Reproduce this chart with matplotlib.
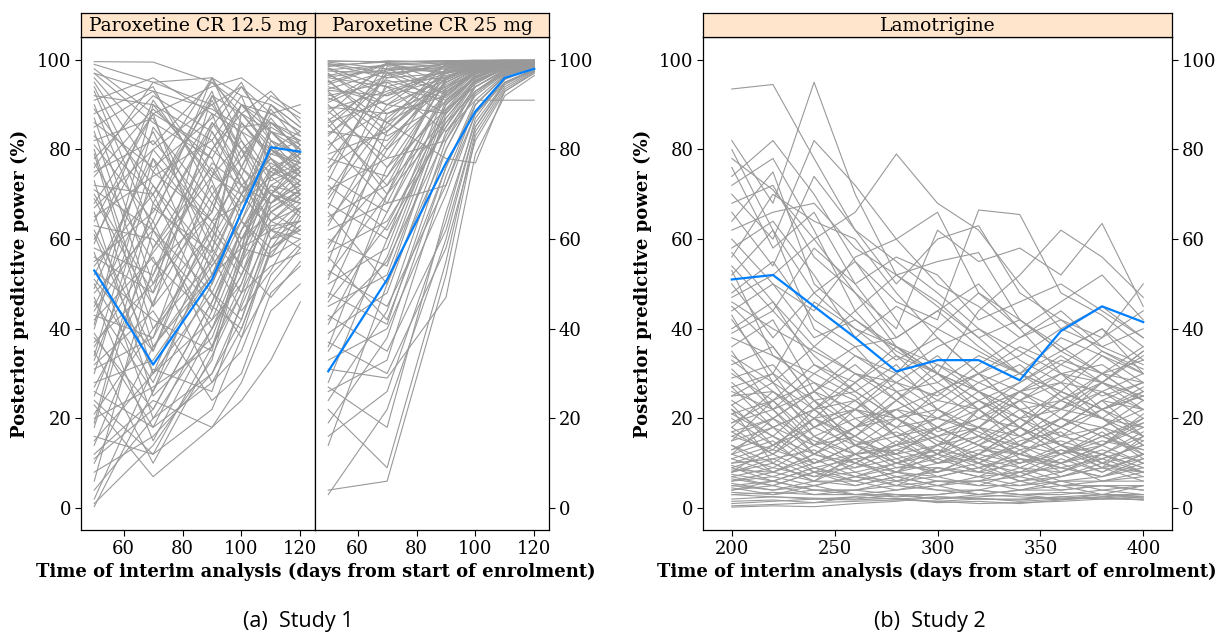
import matplotlib
matplotlib.use("Agg")
import matplotlib.pyplot as plt

# interim analysis times (days)
days_s1 = [50, 70, 90, 100, 110, 120]
days_s2 = [200, 220, 240, 260, 280, 300, 320, 340, 360, 380, 400]

# posterior predictive power (%) for each simulated trial
pp_12mg = [
    [99.6, 99.5, 95, 88, 84, 80], [99, 95, 96, 92, 90, 85], [97, 93, 89, 85, 86, 83],
    [96, 81, 95, 90, 84, 78], [94, 68, 92, 80, 75, 72], [92, 90, 74, 70, 85, 81],
    [90, 58, 80, 88, 93, 86], [88, 94, 70, 60, 72, 76], [86, 76, 87, 95, 82, 79],
    [84, 45, 62, 76, 88, 90], [82, 87, 60, 52, 66, 70], [81, 64, 96, 82, 70, 66],
    [80, 40, 55, 70, 78, 74], [78, 92, 84, 74, 60, 64], [77, 55, 42, 50, 68, 73],
    [75, 82, 66, 86, 79, 77], [73, 30, 48, 62, 71, 68], [72, 70, 91, 78, 89, 81],
    [70, 48, 72, 58, 62, 60], [68, 88, 52, 66, 80, 84], [66, 25, 38, 55, 64, 70],
    [65, 74, 82, 92, 76, 71], [63, 60, 45, 40, 58, 62], [62, 35, 68, 80, 86, 80],
    [60, 84, 58, 48, 54, 57], [58, 52, 77, 72, 68, 75], [57, 20, 30, 45, 60, 67],
    [55, 66, 88, 84, 74, 69], [53, 42, 35, 58, 82, 78], [52, 78, 62, 54, 47, 55],
    [50, 28, 56, 70, 77, 73], [48, 62, 86, 76, 90, 83], [47, 15, 40, 52, 66, 71],
    [45, 72, 50, 64, 58, 63], [43, 38, 74, 82, 73, 76], [42, 56, 28, 35, 52, 59],
    [40, 85, 68, 60, 70, 65], [38, 22, 46, 62, 75, 80], [37, 50, 80, 74, 64, 61],
    [35, 10, 34, 48, 62, 68], [33, 67, 57, 88, 81, 74], [32, 44, 24, 30, 48, 54],
    [30, 75, 64, 68, 79, 82], [28, 33, 52, 58, 56, 66], [26, 18, 44, 60, 72, 70],
    [25, 58, 76, 66, 84, 77], [23, 7, 18, 24, 33, 46], [21, 40, 60, 72, 68, 72],
    [20, 27, 36, 55, 70, 76], [18, 62, 48, 42, 63, 64], [16, 12, 22, 38, 58, 67],
    [14, 46, 70, 78, 87, 79], [12, 24, 18, 28, 44, 50], [10, 36, 54, 64, 76, 73],
    [8, 16, 30, 42, 60, 62], [6, 54, 66, 84, 80, 75], [4, 20, 40, 52, 70, 78],
    [2, 31, 26, 46, 64, 69], [1, 14, 33, 56, 74, 81], [0.3, 26, 58, 70, 62, 58],
    [97, 86, 78, 64, 56, 60], [89, 72, 56, 44, 53, 65], [76, 95, 90, 80, 70, 68],
    [64, 88, 94, 96, 91, 87],
    [98, 88, 80, 90, 82, 75], [95, 75, 96, 86, 78, 70], [93, 62, 85, 94, 88, 84],
    [91, 96, 88, 72, 64, 67], [87, 50, 66, 84, 92, 88], [85, 93, 75, 68, 74, 79],
    [83, 70, 93, 76, 68, 73], [79, 36, 52, 68, 84, 82], [74, 89, 78, 90, 86, 80],
    [71, 62, 40, 56, 74, 77], [69, 45, 86, 80, 66, 62], [67, 80, 64, 74, 90, 85],
    [61, 30, 60, 86, 78, 72], [59, 91, 73, 58, 67, 71], [56, 48, 92, 88, 80, 76],
    [54, 70, 44, 62, 72, 66], [51, 35, 64, 54, 86, 82], [49, 80, 90, 94, 84, 78],
    [46, 26, 50, 66, 80, 74], [44, 64, 36, 48, 70, 68], [41, 90, 82, 70, 62, 64],
    [39, 18, 28, 40, 57, 63], [36, 57, 74, 90, 88, 84], [34, 78, 48, 38, 50, 58],
    [31, 38, 62, 76, 70, 75], [27, 52, 84, 72, 78, 70], [24, 12, 36, 50, 68, 72],
    [19, 68, 54, 64, 80, 77], [15, 30, 42, 58, 76, 79], [11, 22, 46, 60, 66, 71],
]
pp_25mg = [
    [99.8, 99.5, 99.8, 99.9, 99.9, 99.9], [99.5, 98, 99, 99.5, 99.7, 99.8],
    [99, 96, 97, 98.5, 99.5, 99.6], [98.5, 99.8, 99.5, 99.3, 99.6, 99.7],
    [98, 92, 96, 99, 99.2, 99.5], [97.5, 97, 98, 99.6, 99.8, 99.9],
    [97, 88, 94, 97, 98.8, 99.2], [96.5, 99, 99.6, 99.8, 99.9, 99.9],
    [96, 94, 91, 96, 98.5, 99], [95.5, 84, 97, 98, 99, 99.4],
    [95, 99.2, 98.5, 99.2, 99.5, 99.7], [94, 90, 88, 95, 98, 98.8],
    [93.5, 97.5, 99.2, 99.6, 99.8, 99.8], [93, 80, 92, 97.5, 98.6, 99.3],
    [92, 95, 96, 98.8, 99.3, 99.5], [91.5, 86, 99, 99.4, 99.7, 99.8],
    [91, 98, 93, 97, 98.2, 99], [90, 76, 89, 94, 97.5, 98.5],
    [89, 93, 97.5, 98.5, 99.4, 99.6], [88, 99.4, 95, 98, 99, 99.4],
    [87, 70, 86, 93, 97, 98.4], [86, 91, 98.8, 99.3, 99.6, 99.7],
    [85, 97, 90, 96.5, 98.4, 99.1], [84, 82, 94.5, 97.8, 99.1, 99.5],
    [83, 96, 99.4, 99.7, 99.9, 99.9], [82, 68, 72, 88, 95, 97.5],
    [81, 89, 96.5, 98.2, 99.2, 99.5], [80, 99.6, 92, 97, 98.9, 99.3],
    [78, 74, 95.5, 98.5, 99.5, 99.6], [77, 94, 84, 91, 91, 91],
    [76, 85, 98, 99.2, 99.6, 99.8], [74, 66, 90, 96, 98.6, 99.2],
    [73, 98.5, 97, 98.8, 99.4, 99.7], [71, 78, 82, 92, 97, 98.6],
    [70, 90, 99, 99.5, 99.8, 99.9], [68, 60, 93, 97.2, 99, 99.4],
    [67, 95, 88, 95.5, 98.2, 99], [65, 72, 96, 98.6, 99.5, 99.7],
    [63, 86, 78, 77, 93, 97], [62, 68, 94, 98, 99.3, 99.6],
    [60, 54, 89, 96.8, 98.8, 99.3], [58, 80, 97.8, 99, 99.6, 99.8],
    [57, 64, 85, 94, 97.8, 98.9], [55, 88, 92, 97.6, 99.1, 99.5],
    [53, 45, 72, 90, 96.5, 98.2], [52, 70, 98.5, 99.4, 99.7, 99.8],
    [50, 58, 91, 96.2, 98.4, 99.1], [48, 41, 80, 92.5, 97.2, 98.7],
    [47, 76, 95, 98.4, 99.3, 99.6], [45, 52, 87, 95, 98, 99],
    [43, 35, 62, 85, 94.5, 97.8], [41, 66, 93.5, 97.5, 99, 99.4],
    [39, 48, 84, 93, 97.4, 98.8], [37, 30, 58, 82, 93, 97.2],
    [35, 56, 90, 96, 98.5, 99.2], [33, 40, 70, 88, 95.6, 98.3],
    [31, 29, 47, 79, 92, 96.5], [28, 60, 86, 95.4, 98.2, 99],
    [27, 18, 66, 86, 95, 98], [24, 44, 82, 94, 97.8, 98.9],
    [22, 9, 55, 84, 94, 97.6], [19, 38, 76, 90, 96.4, 98.5],
    [16, 26, 64, 87, 95.8, 98.2], [14, 50, 88, 95.8, 98.6, 99.2],
    [4, 6, 52, 83, 93.5, 97.4], [3, 22, 60, 85, 94.8, 97.9],
    [99.7, 99.6, 99.7, 99.8, 99.9, 99.9], [99.2, 97, 98.5, 99.4, 99.7, 99.8],
    [98.8, 99.5, 99.8, 99.9, 99.9, 99.9], [98.2, 94, 97.5, 99.2, 99.6, 99.7],
    [97.8, 98.8, 99.3, 99.6, 99.8, 99.8], [96.8, 90, 95.5, 98.6, 99.4, 99.6],
    [96.2, 97.8, 98.2, 99.2, 99.6, 99.7], [95.2, 86, 93.5, 97.6, 99, 99.4],
    [94.5, 99, 97.2, 99, 99.5, 99.7], [93.2, 92, 98.8, 99.5, 99.8, 99.8],
    [92.5, 83, 90.5, 96.4, 98.7, 99.3], [90.5, 96.5, 99.1, 99.6, 99.8, 99.9],
    [89.5, 88, 94, 98, 99.2, 99.5], [88.5, 78, 98, 99.3, 99.7, 99.8],
    [86.5, 95.5, 91.5, 97.4, 98.9, 99.4], [85.5, 72, 87, 95, 98.2, 99.1],
    [83.5, 92.5, 97, 99, 99.5, 99.7], [79, 84, 95, 98.2, 99.3, 99.6],
    [75, 97.2, 92.5, 97.8, 99.1, 99.5], [72, 62, 85, 95.2, 98.4, 99.2],
    [69, 87, 97.2, 99, 99.6, 99.8], [66, 50, 80, 93, 97.6, 98.9],
    [64, 81, 96.2, 98.8, 99.5, 99.7], [59, 74, 91, 97, 98.9, 99.4],
    [56, 42, 76, 91, 96.8, 98.6], [51, 84, 95.8, 98.7, 99.4, 99.6],
    [46, 63, 88.5, 96.4, 98.8, 99.3], [42, 55, 83, 94.6, 98.2, 99.1],
    [36, 70, 92.5, 97.9, 99.2, 99.6], [26, 33, 74, 90, 96.6, 98.6],
]
pp_lamo = [
    [93.5, 94.5, 78, 62, 55, 48, 40, 35, 30, 28, 25],
    [82, 68, 95, 70, 52, 45, 38, 42, 35, 30, 33],
    [78, 71, 60, 66, 79, 68, 62, 50, 40, 45, 38],
    [74, 82, 70, 55, 46, 42, 66.5, 65.5, 48, 43, 36],
    [70, 60, 82, 72, 60, 50, 45, 38, 44, 36, 40],
    [68, 72, 56, 48, 40, 62, 55, 58, 52, 63.5, 45],
    [66, 54, 74, 62, 50, 60, 63, 48, 42, 38, 50],
    [64, 75, 50, 42, 35, 30, 44, 52, 62, 56, 47],
    [62, 66, 68, 58, 52, 55, 57, 42, 35, 40, 30],
    [60, 50, 44, 56, 60, 66, 48, 40, 46, 52, 42],
    [58, 64, 52, 38, 45, 40, 35, 30, 38, 34, 28],
    [56, 70, 64, 60, 48, 38, 30, 36, 32, 28, 35],
    [54, 44, 58, 50, 56, 52, 42, 46, 50, 44, 38],
    [52, 62, 40, 34, 30, 36, 40, 33, 28, 26, 30],
    [50, 38, 48, 55, 42, 30, 26, 30, 35, 40, 33],
    [48, 55, 42, 36, 38, 44, 50, 40, 30, 25, 28],
    [46, 40, 35, 30, 28, 25, 32, 38, 42, 35, 31],
    [44, 50, 38, 42, 36, 32, 28, 24, 30, 32, 26],
    [42, 30, 46, 40, 33, 38, 30, 26, 22, 28, 35],
    [40, 46, 32, 28, 34, 30, 24, 28, 33, 30, 24],
    [38, 34, 30, 36, 26, 28, 34, 30, 26, 22, 27],
    [36, 42, 26, 22, 30, 24, 22, 26, 28, 35, 30],
    [34, 28, 36, 30, 24, 32, 26, 22, 18, 24, 22],
    [32, 36, 24, 26, 32, 22, 28, 32, 25, 20, 18],
    [30, 24, 28, 20, 22, 26, 20, 18, 24, 28, 34],
    [29, 32, 22, 24, 18, 20, 24, 20, 16, 22, 25],
    [28, 20, 26, 18, 24, 30, 22, 16, 20, 18, 22],
    [27, 30, 18, 22, 20, 16, 18, 24, 22, 26, 20],
    [26, 22, 30, 25, 16, 18, 14, 20, 26, 22, 18],
    [25, 26, 20, 16, 22, 20, 26, 18, 14, 18, 24],
    [24, 18, 22, 28, 20, 14, 16, 22, 18, 24, 16],
    [23, 28, 16, 20, 14, 22, 18, 14, 20, 16, 20],
    [22, 16, 24, 18, 26, 17, 20, 24, 16, 14, 19],
    [21, 24, 14, 22, 18, 12, 22, 16, 22, 20, 14],
    [20, 14, 20, 15, 12, 18, 14, 12, 18, 22, 26],
    [19, 22, 12, 18, 20, 15, 12, 18, 12, 16, 13],
    [18, 12, 18, 14, 16, 20, 17, 13, 15, 12, 17],
    [17, 20, 15, 12, 14, 11, 15, 20, 14, 18, 12],
    [16, 13, 22, 16, 10, 14, 10, 15, 17, 10, 15],
    [15, 18, 10, 14, 17, 12, 18, 11, 10, 14, 21],
    [14, 10, 16, 12, 13, 16, 11, 14, 12, 17, 11],
    [13, 16, 12, 10, 15, 10, 14, 9, 13, 11, 14],
    [12, 9, 14, 16, 11, 13, 9, 12, 10, 13, 10],
    [11, 14, 9, 11, 12, 8, 12, 10, 14, 9, 16],
    [10, 11, 13, 8, 10, 12, 8, 13, 8, 12, 9],
    [9.5, 7, 10, 12, 8, 10, 11, 7, 11, 8, 12],
    [9, 12, 8, 9, 11, 7, 9, 11, 7, 10, 7],
    [8.5, 8, 11, 7, 9, 9, 7, 8, 9, 7, 10],
    [8, 10, 6, 10, 7, 8, 10, 6, 8, 11, 8],
    [7.5, 6, 9, 6, 8, 6, 6, 9, 6, 7, 11],
    [7, 9, 7, 8, 5, 9, 8, 7, 10, 6, 6],
    [6.5, 5, 8, 5, 7, 5, 7, 5, 7, 9, 8],
    [6, 7, 5, 7, 6, 7, 5, 8, 5, 5, 5],
    [5.5, 4, 6, 6, 4, 6, 6, 4, 6, 6, 7],
    [5, 6, 4, 4, 5, 4, 4, 6, 4, 5, 4],
    [4.5, 3, 5, 3, 4, 5, 3, 4, 5, 3, 5],
    [4, 5, 3, 4, 3, 3, 4, 3, 3, 4, 3],
    [3.5, 3, 4, 3, 3, 2, 3, 2.5, 2, 3, 2.5],
    [3, 2.5, 2, 2.5, 2, 2.5, 2, 2, 2.5, 2, 2],
    [1.5, 1.8, 1.2, 2.5, 2, 1.5, 2, 1.8, 2.5, 3, 2.2],
    [1, 1.5, 2, 1.8, 2.2, 1.2, 1.5, 1, 1.8, 2.5, 1.8],
    [0.5, 0.8, 1.2, 1.5, 1.8, 1.5, 1, 1.2, 1.5, 2, 2.5],
    [0.2, 0.5, 0.3, 1, 1.5, 2.5, 2.2, 1.5, 2, 2.2, 1.8],
    [45, 36, 24, 14, 10, 8, 12, 18, 14, 10, 12],
    [35, 22, 14, 10, 8, 12, 16, 12, 10, 14, 20],
    [15, 24, 32, 26, 20, 14, 18, 26, 30, 22, 16],
    [12, 20, 26, 34, 28, 22, 16, 14, 20, 28, 24],
    [22, 10, 6, 12, 18, 26, 30, 22, 14, 10, 8],
    [8, 14, 20, 28, 36, 30, 24, 18, 26, 34, 30],
    [18, 26, 20, 12, 8, 14, 22, 28, 34, 28, 22],
    [80, 62, 48, 40, 36, 30, 26, 22, 24, 30, 28],
    [76, 58, 66, 50, 38, 44, 36, 30, 26, 22, 25],
    [72, 78, 62, 44, 34, 26, 30, 34, 40, 36, 32],
    [57, 46, 36, 44, 52, 46, 38, 30, 24, 20, 26],
    [53, 34, 28, 24, 30, 40, 48, 42, 36, 30, 24],
    [47, 52, 60, 48, 36, 28, 22, 26, 32, 38, 44],
    [43, 28, 22, 30, 26, 20, 18, 24, 28, 20, 16],
    [39, 44, 34, 26, 20, 24, 30, 22, 18, 24, 28],
    [33, 26, 18, 22, 28, 34, 26, 20, 22, 30, 36],
    [31, 22, 26, 32, 24, 18, 14, 18, 24, 20, 14],
    [27, 18, 14, 18, 22, 16, 20, 26, 20, 16, 12],
    [25, 30, 24, 14, 12, 18, 24, 18, 12, 14, 18],
    [23, 14, 18, 24, 16, 10, 12, 16, 20, 26, 22],
    [21, 16, 10, 14, 20, 22, 16, 12, 16, 18, 15],
    [19, 24, 16, 10, 14, 18, 22, 14, 10, 12, 16],
    [17, 12, 20, 22, 16, 12, 10, 14, 18, 14, 10],
    [16, 20, 12, 16, 24, 18, 14, 10, 12, 16, 19],
    [14, 8, 12, 18, 12, 14, 18, 16, 12, 8, 12],
    [13, 18, 22, 14, 10, 8, 12, 18, 14, 12, 9],
    [12, 15, 8, 12, 14, 16, 10, 8, 12, 15, 13],
    [11, 8, 12, 9, 13, 10, 13, 12, 9, 11, 14],
    [10, 13, 10, 14, 9, 11, 8, 10, 13, 9, 11],
    [9, 6, 9, 7, 10, 13, 11, 9, 8, 12, 8],
    [8, 11, 7, 11, 6, 9, 7, 11, 9, 7, 9],
    [7, 5, 8, 6, 8, 7, 9, 6, 7, 9, 6],
    [6, 8, 6, 5, 7, 5, 6, 7, 5, 6, 8],
    [5, 4, 5, 7, 5, 6, 5, 5, 6, 4, 5],
    [4, 6, 4, 4, 6, 4, 3, 4, 4, 5, 4],
    [3, 3.5, 3, 3, 2.5, 3, 4, 3, 3.5, 3, 3],
    [2, 2.5, 2.2, 2, 3, 2, 2.5, 3, 2, 2.5, 3],
]

# averaged curves (blue)
mean_12mg = [53, 32, 51, 66, 80.5, 79.5]
mean_25mg = [30.5, 51, 77, 88.5, 96, 98]
mean_lamo = [51, 52, 45, 38, 30.5, 33, 33, 28.5, 39.5, 45, 41.5]

panel_titles = ["Paroxetine CR 12.5 mg", "Paroxetine CR 25 mg", "Lamotrigine"]
xlab = "Time of interim analysis (days from start of enrolment)"
ylab = "Posterior predictive power (%)"

GREY = "#999999"
BLUE = "#0080ff"
STRIP = "#ffe5cc"
SERIF = "DejaVu Serif"

W, H = 1228, 637
fig = plt.figure(figsize=(W / 100, H / 100), dpi=100)


def px_axes(x0, x1, y0, y1):
    # pixel box (top-left origin) -> figure axes
    return fig.add_axes([x0 / W, 1 - y1 / H, (x1 - x0) / W, (y1 - y0) / H])


def strip(x0, x1, text):
    s = px_axes(x0, x1, 13, 37)
    s.set_facecolor(STRIP)
    s.set_xticks([])
    s.set_yticks([])
    for sp in s.spines.values():
        sp.set_linewidth(0.9)
    s.text(0.5, 0.45, text, ha="center", va="center", fontsize=13.5,
           family=SERIF, transform=s.transAxes)


def panel(x0, x1, xs, lines, mean, xlim, xticks, left, right):
    ax = px_axes(x0, x1, 37, 530)
    for ys in lines:
        ax.plot(xs, ys, color=GREY, lw=0.8)
    ax.plot(xs, mean, color=BLUE, lw=1.6)
    ax.set_xlim(*xlim)
    ax.set_ylim(-4.9, 105.1)
    ax.set_xticks(xticks)
    ax.set_yticks([0, 20, 40, 60, 80, 100])
    ax.tick_params(direction="out", length=4, width=0.8, labelsize=13,
                   left=left, labelleft=left, right=right, labelright=right,
                   top=False, pad=3)
    for lab in ax.get_xticklabels() + ax.get_yticklabels():
        lab.set_family(SERIF)
    for sp in ax.spines.values():
        sp.set_linewidth(0.9)
    return ax


panel(81, 315, days_s1, pp_12mg, mean_12mg, (45.5, 125), [60, 80, 100, 120], True, False)
panel(315, 549, days_s1, pp_25mg, mean_25mg, (45.5, 125), [60, 80, 100, 120], False, True)
panel(703, 1172, days_s2, pp_lamo, mean_lamo, (186, 414), [200, 250, 300, 350, 400], True, True)
strip(81, 315, panel_titles[0])
strip(315, 549, panel_titles[1])
strip(703, 1172, panel_titles[2])

# axis titles
for cx in (316, 937):
    fig.text(cx / W, 1 - 572 / H, xlab, ha="center", va="center",
             fontsize=13, fontweight="bold", family=SERIF)
for lx in (20, 643):
    fig.text(lx / W, 1 - 284 / H, ylab, ha="center", va="center", rotation=90,
             fontsize=13, fontweight="bold", family=SERIF)

# sub-captions
fig.text(298 / W, 1 - 622 / H, "(a)  Study 1", ha="center", va="center",
         fontsize=15.5, family="Open Sans")
fig.text(930 / W, 1 - 622 / H, "(b)  Study 2", ha="center", va="center",
         fontsize=15.5, family="Open Sans")

fig.savefig("out.png", dpi=100)
